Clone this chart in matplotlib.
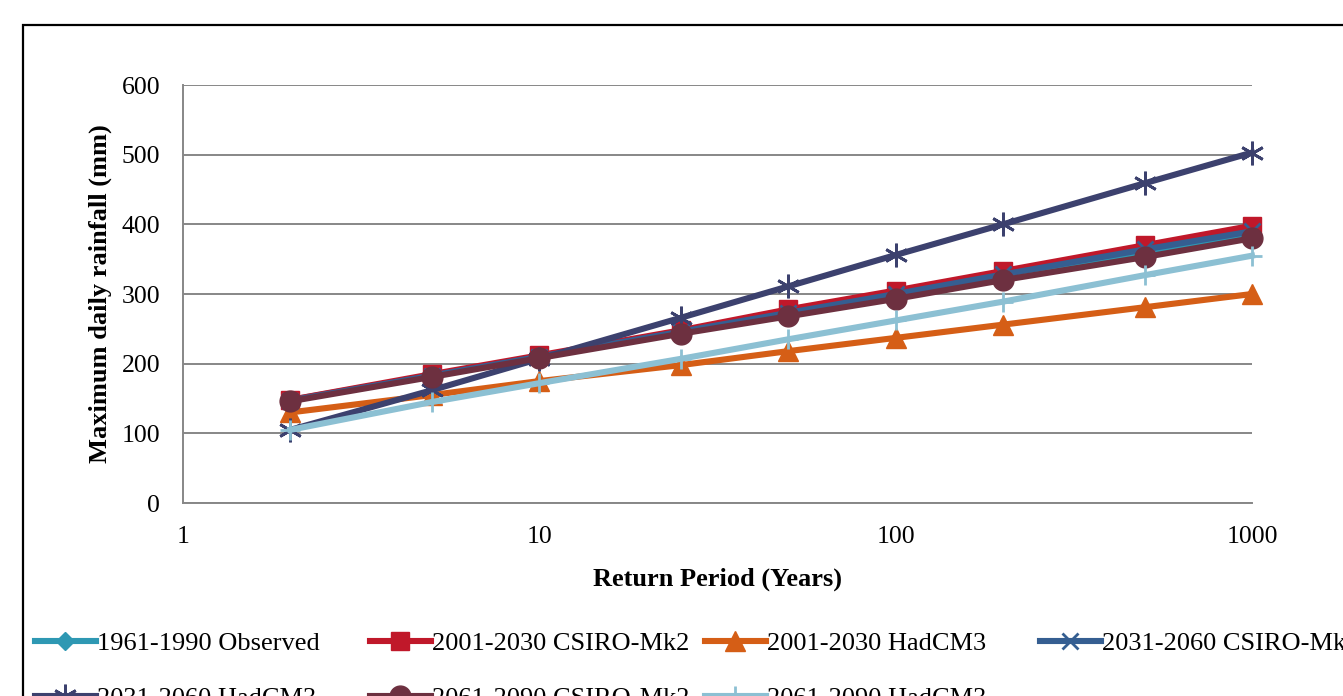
import matplotlib.pyplot as plt
from matplotlib.patches import Rectangle

plt.rcParams['font.family'] = ['Liberation Serif', 'DejaVu Serif']

return_period = [2, 5, 10, 25, 50, 100, 200, 500, 1000]

obs_1961_1990 = [148, 183, 210, 245, 272, 298, 325, 360, 385]
csiro_2001_2030 = [148, 185, 212, 248, 278, 305, 333, 370, 398]
hadcm3_2001_2030 = [130, 155, 175, 198, 218, 237, 256, 281, 300]
csiro_2031_2060 = [147, 183, 210, 246, 273, 300, 328, 364, 390]
hadcm3_2031_2060 = [105, 162, 207, 266, 311, 356, 400, 459, 503]
csiro_2061_2090 = [146, 181, 208, 243, 268, 293, 320, 353, 380]
hadcm3_2061_2090 = [105, 145, 172, 207, 235, 262, 289, 327, 355]

labels = ['1961-1990 Observed', '2001-2030 CSIRO-Mk2', '2001-2030 HadCM3',
          '2031-2060 CSIRO-Mk2', '2031-2060 HadCM3', '2061-2090 CSIRO-Mk2',
          '2061-2090 HadCM3']
series = [obs_1961_1990, csiro_2001_2030, hadcm3_2001_2030, csiro_2031_2060,
          hadcm3_2031_2060, csiro_2061_2090, hadcm3_2061_2090]
colors = ['#2E98B3', '#C0182A', '#D55E16', '#355E91', '#3C416E', '#6D3040', '#8CC0D3']
markers = ['D', 's', '^', 'x', (6, 2, 0), 'o', '+']
msizes = [9, 13, 14, 12, 17, 15, 15]

W, H = 1343, 696
fig = plt.figure(figsize=(W / 100, H / 100), dpi=100)
ax = fig.add_axes([183 / W, 1 - 503 / H, (1252 - 183) / W, (503 - 85) / H])

lines = []
for vals, lab, c, m, ms in zip(series, labels, colors, markers, msizes):
    ln, = ax.plot(return_period, vals, color=c, lw=4.4, marker=m, markersize=ms,
                  markeredgewidth=2 if m in ('x', '+', (6, 2, 0)) else 1,
                  markeredgecolor=c, label=lab, clip_on=False)
    lines.append(ln)

ax.set_xscale('log')
ax.set_xlim(1, 1000)
ax.set_ylim(0, 600)
ax.set_yticks(range(0, 601, 100))
ax.set_xticks([1, 10, 100, 1000])
ax.set_xticklabels(['1', '10', '100', '1000'])
ax.minorticks_off()
ax.yaxis.grid(True, color='#878787', lw=1.4)
ax.set_axisbelow(True)
for s in ['top', 'right']:
    ax.spines[s].set_visible(False)
for s in ['left', 'bottom']:
    ax.spines[s].set_color('#878787')
    ax.spines[s].set_linewidth(1.4)
ax.tick_params(axis='both', length=0, labelsize=18.5)
ax.tick_params(axis='y', pad=16.5)
ax.tick_params(axis='x', pad=16.5)

ax.set_xlabel('Return Period (Years)', fontsize=19, fontweight='bold', labelpad=14)
ax.set_ylabel('Maximum daily rainfall (mm)', fontsize=19, fontweight='bold', labelpad=6.5)

# outer chart border (continues past the crop)
fig.patches.append(Rectangle((23 / W, -0.2), 1.3, 1 - 25 / H + 0.2, transform=fig.transFigure,
                             fill=False, edgecolor='black', lw=1.6))

col_x = [35, 370, 705, 1040]
row_y = [643, 698]
for i, ln in enumerate(lines):
    r, c = divmod(i, 4)
    fig.legend([ln], [ln.get_label()], loc='center left',
               bbox_to_anchor=(col_x[c] / W, 1 - row_y[r] / H),
               frameon=False, fontsize=19, borderpad=0, borderaxespad=0,
               handlelength=2.3, handletextpad=0.05)

fig.savefig('out.png', dpi=100)
